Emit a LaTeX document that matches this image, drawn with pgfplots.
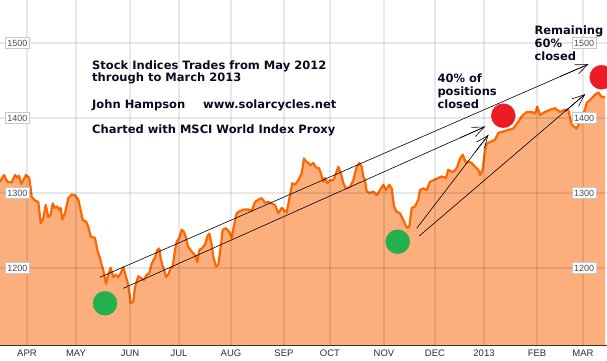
\documentclass[border=0pt]{standalone}
\usepackage{fontspec}
\setmainfont{Liberation Sans}
\newfontfamily\verd{DejaVu Sans}
\newfontfamily\arial{Liberation Sans}
\usepackage{pgfplots}
\pgfplotsset{compat=1.18}
\usepackage{pgfplotstable}
\usetikzlibrary{arrows.meta}
\definecolor{fillc}{RGB}{252,174,124}
\definecolor{linec}{RGB}{255,102,0}
\definecolor{gr}{RGB}{34,177,76}
\definecolor{rd}{RGB}{237,28,36}
\definecolor{txt}{RGB}{10,10,35}

\pgfplotstableread{
x y
0 1315
4 1324
7.3 1315
11.7 1314
15 1324
17.3 1320
19 1323
21.3 1312
26 1324
29.3 1320
31.7 1295
35 1290
38.3 1288
40.7 1260
43.3 1266
45.7 1284
48.3 1268
50.7 1271
52.7 1286
55 1280
57.3 1282
59.3 1277
60.7 1280
62.3 1265
65 1273
68.3 1293
71.7 1298
75 1297
78.3 1291
80.7 1277
82.7 1264
86 1262
88.3 1255
90.7 1242
95 1240
97.3 1224
100 1213
101.7 1204
103.3 1197
106 1179
108.3 1191
110.7 1200
113.3 1188
115.7 1191
118.3 1188
120.7 1193
123.3 1201
126 1188
128.3 1177
130.7 1153
133.3 1155
135 1175
138.3 1189
141.7 1186
144 1184
146.7 1191
149.3 1193
151.7 1206
155 1214
157.3 1224
159.3 1226
160.7 1213
162.3 1204
164.3 1197
166 1188
168.3 1191
170.7 1200
172.7 1202
175 1224
176.7 1235
179.3 1240
181.7 1251
184 1248
186 1240
188.3 1228
191.7 1222
195 1217
197.3 1208
199.3 1224
201.7 1226
205 1231
207.3 1242
209.3 1246
211.7 1231
213.3 1215
216 1202
218.3 1204
220.7 1228
222.7 1251
226 1253
229.3 1248
231.7 1240
234 1257
236.7 1273
240 1276
244 1278
248.3 1278
251.7 1276
255 1288
258.3 1291
261.7 1293
265 1287
268.3 1288
271.7 1286
275 1284
278.3 1273
281.7 1280
284 1277
286.7 1274
290 1297
292.3 1313
295 1311
298.3 1317
301.7 1326
304 1346
306 1342
308.3 1340
310.7 1337
313.3 1340
316 1334
319 1333
321 1326
323.3 1315
325 1320
327.3 1313
330 1317
333.3 1317
336 1326
338.3 1335
341 1326
343.3 1313
346 1306
350 1308
353.3 1317
356.7 1335
359.3 1340
361.7 1335
363.3 1322
365 1317
366.7 1302
370 1300
373.3 1302
376.7 1297
380 1304
383.3 1311
386 1304
389.3 1311
391.7 1306
394 1282
396.7 1275
400 1273
403.3 1264
406.7 1254
409.3 1255
411.7 1280
415 1282
418.3 1291
420 1304
423.3 1306
426.7 1304
430 1315
433.3 1317
438.3 1320
441.7 1322
446 1320
448.3 1331
451.7 1328
455 1330
457.3 1335
460 1346
462.7 1351
466 1340
468.3 1342
471.7 1340
475 1335
478.3 1331
480 1324
482.7 1331
485 1357
486.7 1366
490 1368
495 1371
498.3 1380
503.3 1382
508.3 1384
513.3 1386
518.3 1395
521.7 1402
526.7 1408
531.7 1408
535 1406
537.3 1415
540 1404
545 1408
550 1411
555 1413
560 1408
565 1411
568.3 1411
571.7 1391
576.7 1386
583.3 1404
586.7 1420
590 1424
595 1431
598.3 1434
601.7 1428
605 1428
}\msci

\tikzset{
  ylab/.style={draw=black!22, fill=white, inner xsep=2.2pt, inner ysep=2.4pt, line width=0.6pt,
    font=\arial\fontsize{9}{10}\selectfont, text=black!70},
  tx/.style={anchor=base west, inner sep=0pt, text=txt,
    font=\verd\bfseries\fontsize{11.5}{13}\selectfont},
}
\pgfplotsset{
  base/.style={
    scale only axis, width=607pt, height=345pt,
    xmin=0, xmax=607, ymin=1097.3, ymax=1557.3,
    tick style={draw=none},
    ytick={1200,1300,1400,1500},
    yticklabels={1200,1300,1400,1500},
  },
}

\begin{document}
\begin{tikzpicture}
\begin{axis}[base,
  axis on top,
  axis lines=left, axis line style={-},
  y axis line style={draw=none},
  x axis line style={draw=black!80, line width=1pt},
  grid=major,
  major grid style={black, opacity=0.09, line width=1.5pt},
  xtick={27,76,130,179,231,284,330,384,435,484,537,583},
  xticklabels={APR,MAY,JUN,JUL,AUG,SEP,OCT,NOV,DEC,2013,FEB,MAR},
  x tick label style={font=\arial\fontsize{9.5}{10}\selectfont, text=black!82, inner sep=1pt, yshift=-1.5pt},
  y tick label style={ylab, anchor=center, xshift=19.5pt},
]
\addplot[fill=fillc, draw=none] table {\msci} \closedcycle;
\addplot[linec, line width=2.2pt, line join=round] table {\msci};

% trend lines and arrows
\addplot[black, line width=0.6pt] coordinates {(100,1187.6) (588.3,1471.6)};
\addplot[black, line width=0.6pt] coordinates {(123.3,1172.9) (485,1388.4)};
\addplot[black, line width=0.6pt] coordinates {(416.7,1252.9) (488.3,1377.3)};
\addplot[black, line width=0.6pt] coordinates {(419.3,1242.7) (585,1431.6)};
\addplot[black, line width=0.6pt, -{Straight Barb[length=12pt,width=10pt]}] coordinates {(560,1455.3) (588.3,1471.6)};
\addplot[black, line width=0.6pt, -{Straight Barb[length=12pt,width=10pt]}] coordinates {(460,1373.4) (485,1388.4)};
\addplot[black, line width=0.6pt, -{Straight Barb[length=12pt,width=10pt]}] coordinates {(475,1354.2) (488.3,1377.3)};
\addplot[black, line width=0.6pt, -{Straight Barb[length=12pt,width=10pt]}] coordinates {(565,1408.8) (585,1431.6)};

% entry and exit points
\addplot[only marks, mark=*, mark size=12pt, mark options={fill=gr, draw=gr}] coordinates {(105,1152.9) (397.7,1235)};
\addplot[only marks, mark=*, mark size=12pt, mark options={fill=rd, draw=rd}] coordinates {(503.3,1403) (601.7,1454.3)};

% annotations
\node[tx] at (axis cs:92,1464.9) {Stock Indices Trades from May 2012};
\node[tx] at (axis cs:92,1448.4) {through to March 2013};
\node[tx] at (axis cs:92,1412.9) {John Hampson};
\node[tx] at (axis cs:203,1412.9) {www.solarcycles.net};
\node[tx] at (axis cs:92,1379.1) {Charted with MSCI World Index Proxy};
\node[tx] at (axis cs:437.3,1447.1) {40\% of};
\node[tx] at (axis cs:437.3,1429.7) {positions};
\node[tx] at (axis cs:437.3,1412.9) {closed};
\node[tx] at (axis cs:534.3,1510.7) {Remaining};
\node[tx] at (axis cs:534.3,1493.7) {60\%};
\node[tx] at (axis cs:534.3,1476.4) {closed};
\end{axis}
\begin{axis}[base,
  axis y line*=right, axis line style={draw=none},
  hide x axis,
  y tick label style={ylab, anchor=center, xshift=-23pt},
]
\end{axis}
\pgfresetboundingbox
\path[use as bounding box] (0,-15pt) rectangle (607pt,345pt);
\end{tikzpicture}
\end{document}
